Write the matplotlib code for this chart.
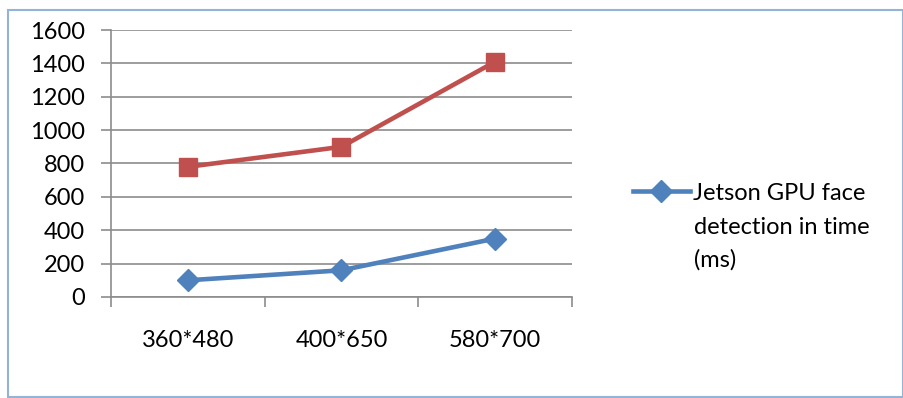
import numpy as np
import matplotlib.pyplot as plt
from matplotlib.patches import Rectangle

plt.rcParams['font.family'] = ['Lato', 'DejaVu Sans']

# data
sizes = ['360*480', '400*650', '580*700']
gpu_time = [100, 160, 350]
cpu_time = [780, 900, 1410]
legend_lines = ['Jetson GPU face', 'detection in time', '(ms)']

blue = '#4F81BD'
red = '#C0504D'
grid_col = '#8C8C8C'
fs = 17

fig = plt.figure(figsize=(9.04, 3.98), dpi=100)
ax = fig.add_axes([0.1228, 0.2538, 0.5099, 0.6708])

x = np.arange(len(sizes))
gpu_line, = ax.plot(x, gpu_time, color=blue, lw=3.3, marker='D', ms=11, zorder=3)
ax.plot(x, cpu_time, color=red, lw=3.3, marker='s', ms=13, zorder=3)

ax.set_xlim(-0.5, len(sizes) - 0.5)
ax.set_ylim(0, 1600)
ax.set_yticks(np.arange(0, 1601, 200))
ax.yaxis.grid(True, color=grid_col, lw=1.2)
ax.set_axisbelow(True)

ax.set_xticks(x)
ax.set_xticklabels(sizes)
ax.set_xticks(np.arange(-0.5, len(sizes)), minor=True)
ax.tick_params(axis='x', which='major', length=0, pad=24, labelsize=fs)
ax.tick_params(axis='x', which='minor', length=7, width=1.2, color=grid_col, direction='out')
ax.tick_params(axis='y', length=7, width=1.2, color=grid_col, labelsize=fs, pad=12)

for side in ['top', 'right']:
    ax.spines[side].set_visible(False)
for side in ['left', 'bottom']:
    ax.spines[side].set_color(grid_col)
    ax.spines[side].set_linewidth(1.2)

# legend: handle next to the first line, the rest of the label wraps below
leg = fig.legend([gpu_line], [legend_lines[0]], loc='center left',
                 bbox_to_anchor=(633 / 904, 1 - 193 / 398), frameon=False,
                 fontsize=fs, handlelength=2.4, handletextpad=0.15,
                 borderpad=0, borderaxespad=0)
for i, line in enumerate(legend_lines[1:]):
    fig.text(694 / 904, 1 - (227 + 33 * i) / 398, line, fontsize=fs,
             va='center', ha='left')

fig.patches.append(Rectangle((8 / 904, 1 / 398), 895 / 904, 387 / 398,
                             transform=fig.transFigure, fill=False,
                             edgecolor='#95B3D7', lw=1.5))

fig.savefig('out.png', dpi=100)
